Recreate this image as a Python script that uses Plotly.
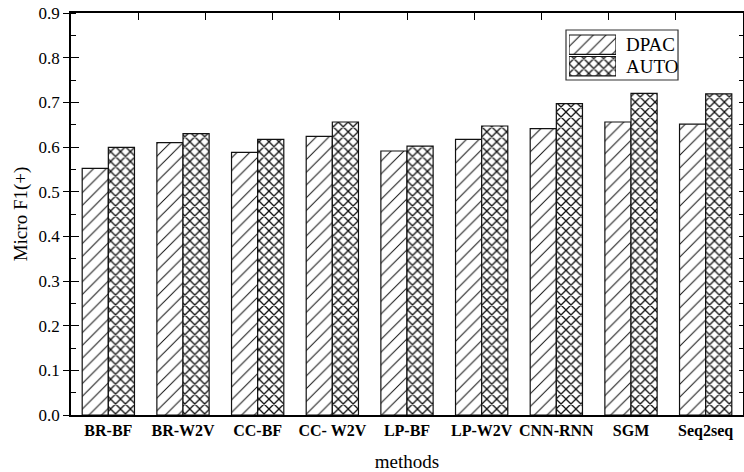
import plotly.graph_objects as go

# Micro F1(+) per method for the two datasets
methods = ["BR-BF", "BR-W2V", "CC-BF", "CC- W2V", "LP-BF", "LP-W2V", "CNN-RNN", "SGM", "Seq2seq"]
dpac = [0.552, 0.610, 0.588, 0.624, 0.591, 0.617, 0.641, 0.656, 0.651]
auto = [0.599, 0.630, 0.617, 0.656, 0.602, 0.647, 0.697, 0.720, 0.719]
series_names = ["DPAC", "AUTO"]

SERIF = "Liberation Serif, Times New Roman, serif"
INK = "#111111"

hatch = {
    "DPAC": dict(shape="/", size=9, solidity=0.11, fgcolor=INK, bgcolor="white", fillmode="replace"),
    "AUTO": dict(shape="x", size=7, solidity=0.34, fgcolor=INK, bgcolor="white", fillmode="replace"),
}

fig = go.Figure()
for name, vals in zip(series_names, [dpac, auto]):
    fig.add_trace(go.Bar(
        x=list(range(len(methods))), y=vals, name=name,
        marker=dict(color="white", pattern=hatch[name], line=dict(color=INK, width=1.2)),
        showlegend=False,
    ))

# Legend key drawn as two hatched swatches on a small inset axis
for name in series_names:
    fig.add_trace(go.Bar(
        x=[1], y=[name], orientation="h", xaxis="x4", yaxis="y4",
        offsetgroup="key", width=0.9,
        marker=dict(color="white", pattern=hatch[name], line=dict(color=INK, width=1.2)),
        showlegend=False, hoverinfo="skip",
    ))

fig.update_layout(
    width=744, height=472,
    margin=dict(l=71, r=1, t=13, b=57),
    paper_bgcolor="white", plot_bgcolor="white",
    barmode="group", bargap=0.3, bargroupgap=0.0,
    font=dict(family=SERIF, color="black", size=16),
    xaxis=dict(
        range=[-0.5, len(methods) - 0.5],
        tickmode="array", tickvals=list(range(len(methods))), ticktext=methods,
        tickfont=dict(family=SERIF, size=16, color="black", weight="bold"),
        ticks="", showline=True, linecolor="black", linewidth=1.6,
        showgrid=False, zeroline=False,
        title=dict(text="methods", font=dict(family=SERIF, size=19), standoff=17),
    ),
    yaxis=dict(
        range=[0, 0.9], dtick=0.1, tickformat=".1f",
        ticks="outside", ticklen=6, tickwidth=1.2, tickcolor="black",
        minor=dict(dtick=0.05, ticks="inside", ticklen=5, tickwidth=1.2, tickcolor="black"),
        showline=True, linecolor="black", linewidth=1.6,
        showgrid=False, zeroline=False,
        tickfont=dict(family=SERIF, size=17),
        title=dict(text="Micro F1(+)", font=dict(family=SERIF, size=19), standoff=6),
    ),
    # inward major ticks on the left spine
    yaxis3=dict(
        overlaying="y", anchor="x", side="left", range=[0, 0.9], dtick=0.1,
        ticks="inside", ticklen=8, tickwidth=1.2, tickcolor="black",
        showticklabels=False, showline=False, showgrid=False, zeroline=False,
    ),
    # right frame with inward ticks
    yaxis2=dict(
        overlaying="y", anchor="x", side="right", range=[0, 0.9], dtick=0.05,
        ticks="inside", ticklen=4, tickwidth=1.2, tickcolor="black",
        showticklabels=False, showline=True, linecolor="black", linewidth=1.6,
        showgrid=False, zeroline=False,
    ),
    # top frame with inward ticks
    xaxis2=dict(
        overlaying="x", anchor="y", side="top", range=[0, 10], dtick=1,
        ticks="inside", ticklen=7, tickwidth=1.2, tickcolor="black",
        showticklabels=False, showline=True, linecolor="black", linewidth=1.6,
        showgrid=False, zeroline=False,
    ),
    # inset axes for the legend key
    xaxis4=dict(domain=[0.741, 0.811], anchor="y4", range=[0, 1], visible=False, fixedrange=True),
    yaxis4=dict(
        domain=[0.841, 0.948], anchor="x4", side="right",
        tickmode="array", tickvals=["AUTO", "DPAC"],
        categoryorder="array", categoryarray=["AUTO", "DPAC"],
        showline=False, showgrid=False, zeroline=False, ticks="",
        ticklabelstandoff=9, fixedrange=True,
        tickfont=dict(family=SERIF, size=19, color="black"),
    ),
    shapes=[dict(
        type="rect", xref="paper", yref="paper",
        x0=0.7366, x1=0.9033, y0=0.8333, y1=0.9577,
        line=dict(color="#333333", width=1.2), fillcolor="rgba(0,0,0,0)", layer="below",
    )],
)

# dummy traces so the overlay axes are rendered
fig.add_trace(go.Scatter(x=[None], y=[None], xaxis="x2", yaxis="y2", showlegend=False, hoverinfo="skip"))
fig.add_trace(go.Scatter(x=[None], y=[None], xaxis="x", yaxis="y3", showlegend=False, hoverinfo="skip"))

fig.write_html("out.html")
